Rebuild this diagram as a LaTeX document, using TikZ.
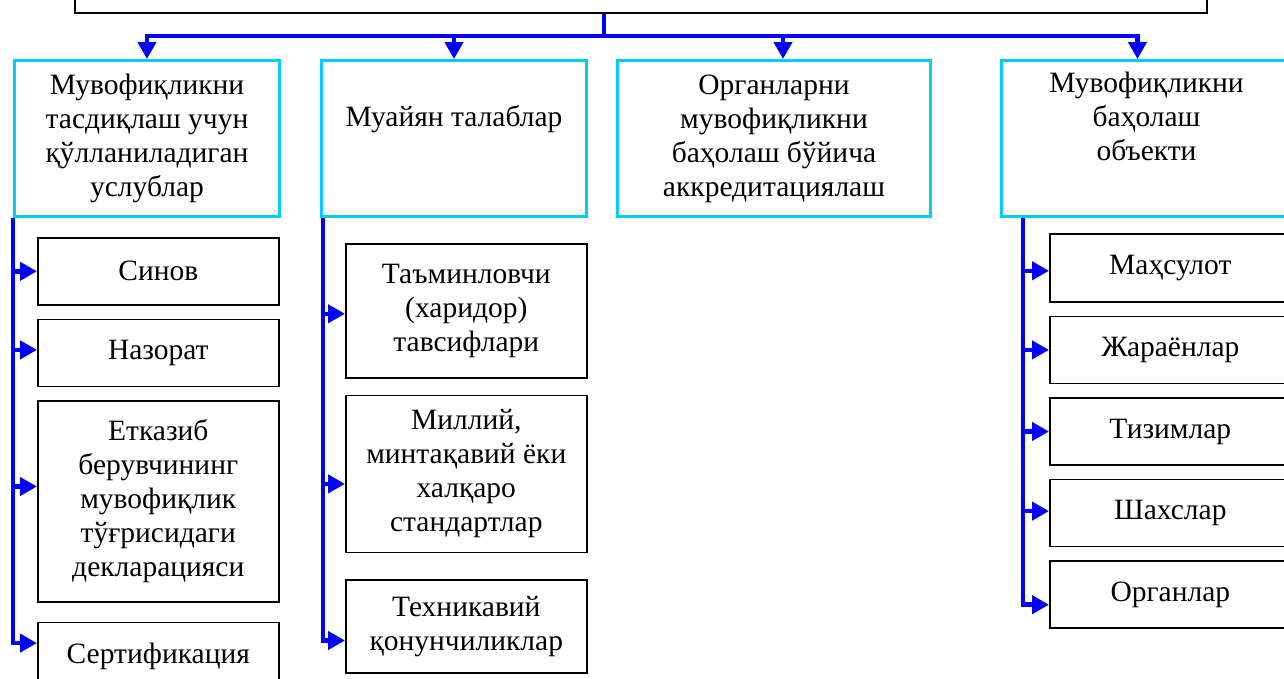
\documentclass[tikz,border=0pt]{standalone}
\usepackage{fontspec}
\setmainfont{Liberation Serif}
\usetikzlibrary{positioning,arrows.meta}
\definecolor{busblue}{RGB}{0,0,255}
\definecolor{headcyan}{RGB}{0,204,255}
\tikzset{>={Triangle[length=17pt,width=18pt]}}

\begin{document}
\begin{tikzpicture}[x=1pt,y=-1pt,
    every node/.style={font=\fontsize{29.5}{34}\selectfont},
    headbox/.style={draw=headcyan, line width=3pt, minimum height=156pt, anchor=north west, align=center, inner sep=0pt},
    itembox/.style={draw=black, line width=1.6pt, minimum width=241pt, align=center, inner sep=0pt},
    bus/.style={draw=busblue, line width=4.5pt}]
  \useasboundingbox (0,0) rectangle (1284,678);
  \node[draw, line width=1.6pt, minimum width=1132pt, minimum height=60pt, anchor=south west] (top) at (74,14) {};
  % main categories
  \node[headbox, minimum width=265pt] (c1) at (13,59) {Мувофиқликни\\тасдиқлаш учун\\қўлланиладиган\\услублар};
  \node[headbox, minimum width=265pt] (c2) at (320,59) {Муайян талаблар\\\strut};
  \node[headbox, minimum width=313pt] (c3) at (616,59) {Органларни\\мувофиқликни\\баҳолаш бўйича\\аккредитациялаш};
  \node[headbox, minimum width=290pt] (c4) at (1000,59) {Мувофиқликни\\баҳолаш\\объекти\\\strut};
  % methods
  \node[itembox, minimum height=67pt, anchor=north west] (m1) at (37,237) {Синов};
  \node[itembox, minimum height=67pt, below=13pt of m1] (m2) {Назорат};
  \node[itembox, minimum height=201pt, below=13pt of m2] (m3) {Етказиб\\берувчининг\\мувофиқлик\\тўғрисидаги\\декларацияси};
  \node[itembox, minimum height=67pt, below=19pt of m3] (m4) {Сертификация};
  % requirements
  \node[itembox, minimum height=134pt, anchor=north west] (t1) at (345,243) {Таъминловчи\\(харидор)\\тавсифлари};
  \node[itembox, minimum height=157pt, below=16pt of t1] (t2) {Миллий,\\минтақавий ёки\\халқаро\\стандартлар};
  \node[itembox, minimum height=93pt, below=26pt of t2] (t3) {Техникавий\\қонунчиликлар};
  % objects
  \node[itembox, minimum height=68pt, anchor=north west] (o1) at (1049,233) {Маҳсулот};
  \node[itembox, minimum height=67pt, below=13pt of o1] (o2) {Жараёнлар};
  \node[itembox, minimum height=67pt, below=13pt of o2] (o3) {Тизимлар};
  \node[itembox, minimum height=67pt, below=13pt of o3] (o4) {Шахслар};
  \node[itembox, minimum height=67pt, below=13pt of o4] (o5) {Органлар};
  % connectors
  \coordinate (hub) at (604,36);
  \draw[bus] (top.south -| hub) -- (hub);
  \draw[bus,->] (hub) -| (c1.north);
  \draw[bus,->] (hub) -| (c2.north);
  \draw[bus,->] (hub) -| ([xshift=9pt]c3.north);
  \draw[bus,->] (hub) -| ([xshift=-9pt]c4.north);
  \foreach \n/\dy in {m1/0, m2/3, m3/15, m4/13}
    \draw[bus,->] (c1.south west) |- ([yshift=\dy pt]\n.west);
  \foreach \n/\dy in {t1/-3, t2/-10, t3/-14}
    \draw[bus,->] ([xshift=3pt]c2.south west) |- ([yshift=\dy pt]\n.west);
  \foreach \n/\dy in {o1/-3, o2/0, o3/0, o4/2, o5/-10}
    \draw[bus,->] ([xshift=23pt]c4.south west) |- ([yshift=\dy pt]\n.west);
\end{tikzpicture}
\end{document}
